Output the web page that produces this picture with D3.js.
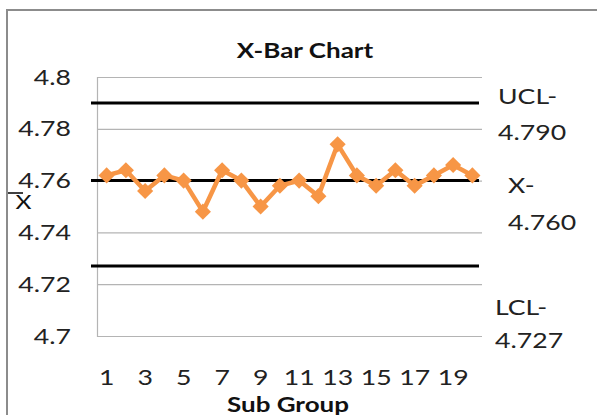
<!DOCTYPE html>
<html>
<head>
<meta charset="utf-8">
<script src="https://cdn.jsdelivr.net/npm/d3@7/dist/d3.min.js"></script>
<style>
  body { margin: 0; background: #fff; }
  svg { display: block; }
</style>
</head>
<body>
<svg id="chart" width="597" height="415"></svg>
<script>
// Subgroup numbers and their sample means
const subgroups = [1, 2, 3, 4, 5, 6, 7, 8, 9, 10, 11, 12, 13, 14, 15, 16, 17, 18, 19, 20];
const xbarValues = [4.762, 4.764, 4.756, 4.762, 4.760, 4.748, 4.764, 4.760, 4.750, 4.758,
                    4.760, 4.754, 4.774, 4.762, 4.758, 4.764, 4.758, 4.762, 4.766, 4.762];

// Axis ticks
const yTicks = [4.7, 4.72, 4.74, 4.76, 4.78, 4.8];
const xTickLabels = [1, 3, 5, 7, 9, 11, 13, 15, 17, 19];

// Control limits
const limitNames = ["UCL", "X", "LCL"];
const limitValues = [4.790, 4.760, 4.727];

// ---- layout ----
const W = 597, H = 415;
const plot = { left: 97, right: 482, top: 77, bottom: 336 };
const FONT = "Lato, 'Open Sans', sans-serif";
const SX = 1.3;            // horizontal stretch applied to all text
const TICK_SIZE = 20.5;
const ORANGE = "#F79646";
const GRID = "#b4b4b4";

// label placement beside each control line: [x, first baseline, second baseline]
const limitLabelLayout = [[498, 104, 140], [508, 193, 230], [495, 315, 348]];

const svg = d3.select("#chart");

function stretchedText(g, x, y, str, opts = {}) {
  return g.append("text")
    .attr("transform", `translate(${x},${y}) scale(${SX},1)`)
    .attr("font-family", FONT)
    .attr("font-size", opts.size || TICK_SIZE)
    .attr("font-weight", opts.weight || "normal")
    .attr("text-anchor", opts.anchor || "start")
    .attr("fill", opts.fill || "#222")
    .text(str);
}

// chart frame
svg.append("path")
  .attr("d", `M7,${H} V10 H${W}`)
  .attr("fill", "none")
  .attr("stroke", "#8c8c8c")
  .attr("stroke-width", 2);

const x = d3.scaleBand().domain(subgroups).range([plot.left, plot.right]);
const xc = d => x(d) + x.bandwidth() / 2;
const y = d3.scaleLinear().domain([4.7, 4.8]).range([plot.bottom, plot.top]);

// horizontal gridlines
const gridAxis = d3.axisLeft(y)
  .tickValues(yTicks)
  .tickSize(-(plot.right - plot.left))
  .tickFormat("");
svg.append("g")
  .attr("transform", `translate(${plot.left},0)`)
  .call(gridAxis)
  .call(g => g.select(".domain").attr("stroke", GRID).attr("stroke-width", 1.2))
  .call(g => g.selectAll(".tick line").attr("stroke", GRID).attr("stroke-width", 1.2));

// y tick labels
const fmtY = d => String(+d.toFixed(2));
const yLab = svg.append("g");
yTicks.forEach(t => {
  stretchedText(yLab, 71, y(t) + 7.5, fmtY(t), { anchor: "end" });
});

// x tick labels
const xLab = svg.append("g");
xTickLabels.forEach(t => {
  stretchedText(xLab, xc(t), 385, String(t), { anchor: "middle" });
});

// control limit lines
svg.append("g").selectAll("line")
  .data(limitValues)
  .join("line")
  .attr("x1", plot.left - 6)
  .attr("x2", plot.right - 3)
  .attr("y1", d => y(d))
  .attr("y2", d => y(d))
  .attr("stroke", "#000")
  .attr("stroke-width", 3);

// x-bar series
const line = d3.line().x((d, i) => xc(subgroups[i])).y(d => y(d));
svg.append("path")
  .datum(xbarValues)
  .attr("d", line)
  .attr("fill", "none")
  .attr("stroke", ORANGE)
  .attr("stroke-width", 4.5)
  .attr("stroke-linejoin", "round");

svg.append("g").selectAll("path")
  .data(xbarValues)
  .join("path")
  .attr("transform", (d, i) => `translate(${xc(subgroups[i])},${y(d)}) rotate(45)`)
  .attr("d", "M-5.7,-5.7H5.7V5.7H-5.7Z")
  .attr("fill", ORANGE);

// control limit labels
const fmtL = d3.format(".3f");
const limG = svg.append("g");
limitValues.forEach((v, i) => {
  const [lx, b1, b2] = limitLabelLayout[i];
  stretchedText(limG, lx, b1, limitNames[i] + "-");
  stretchedText(limG, lx, b2, fmtL(v));
});

// title
stretchedText(svg, 305, 58, "X-Bar Chart", { anchor: "middle", weight: "bold", size: 20, fill: "#111" });

// axis titles
stretchedText(svg, 288, 412, "Sub Group", { anchor: "middle", weight: "bold", size: 20, fill: "#111" });

const yTitle = svg.append("g");
stretchedText(yTitle, 23.5, 209, "X", { anchor: "middle", size: 19, fill: "#111" });
yTitle.append("line")
  .attr("x1", 8).attr("x2", 23)
  .attr("y1", 193).attr("y2", 193)
  .attr("stroke", "#111")
  .attr("stroke-width", 1.6);
</script>
</body>
</html>
